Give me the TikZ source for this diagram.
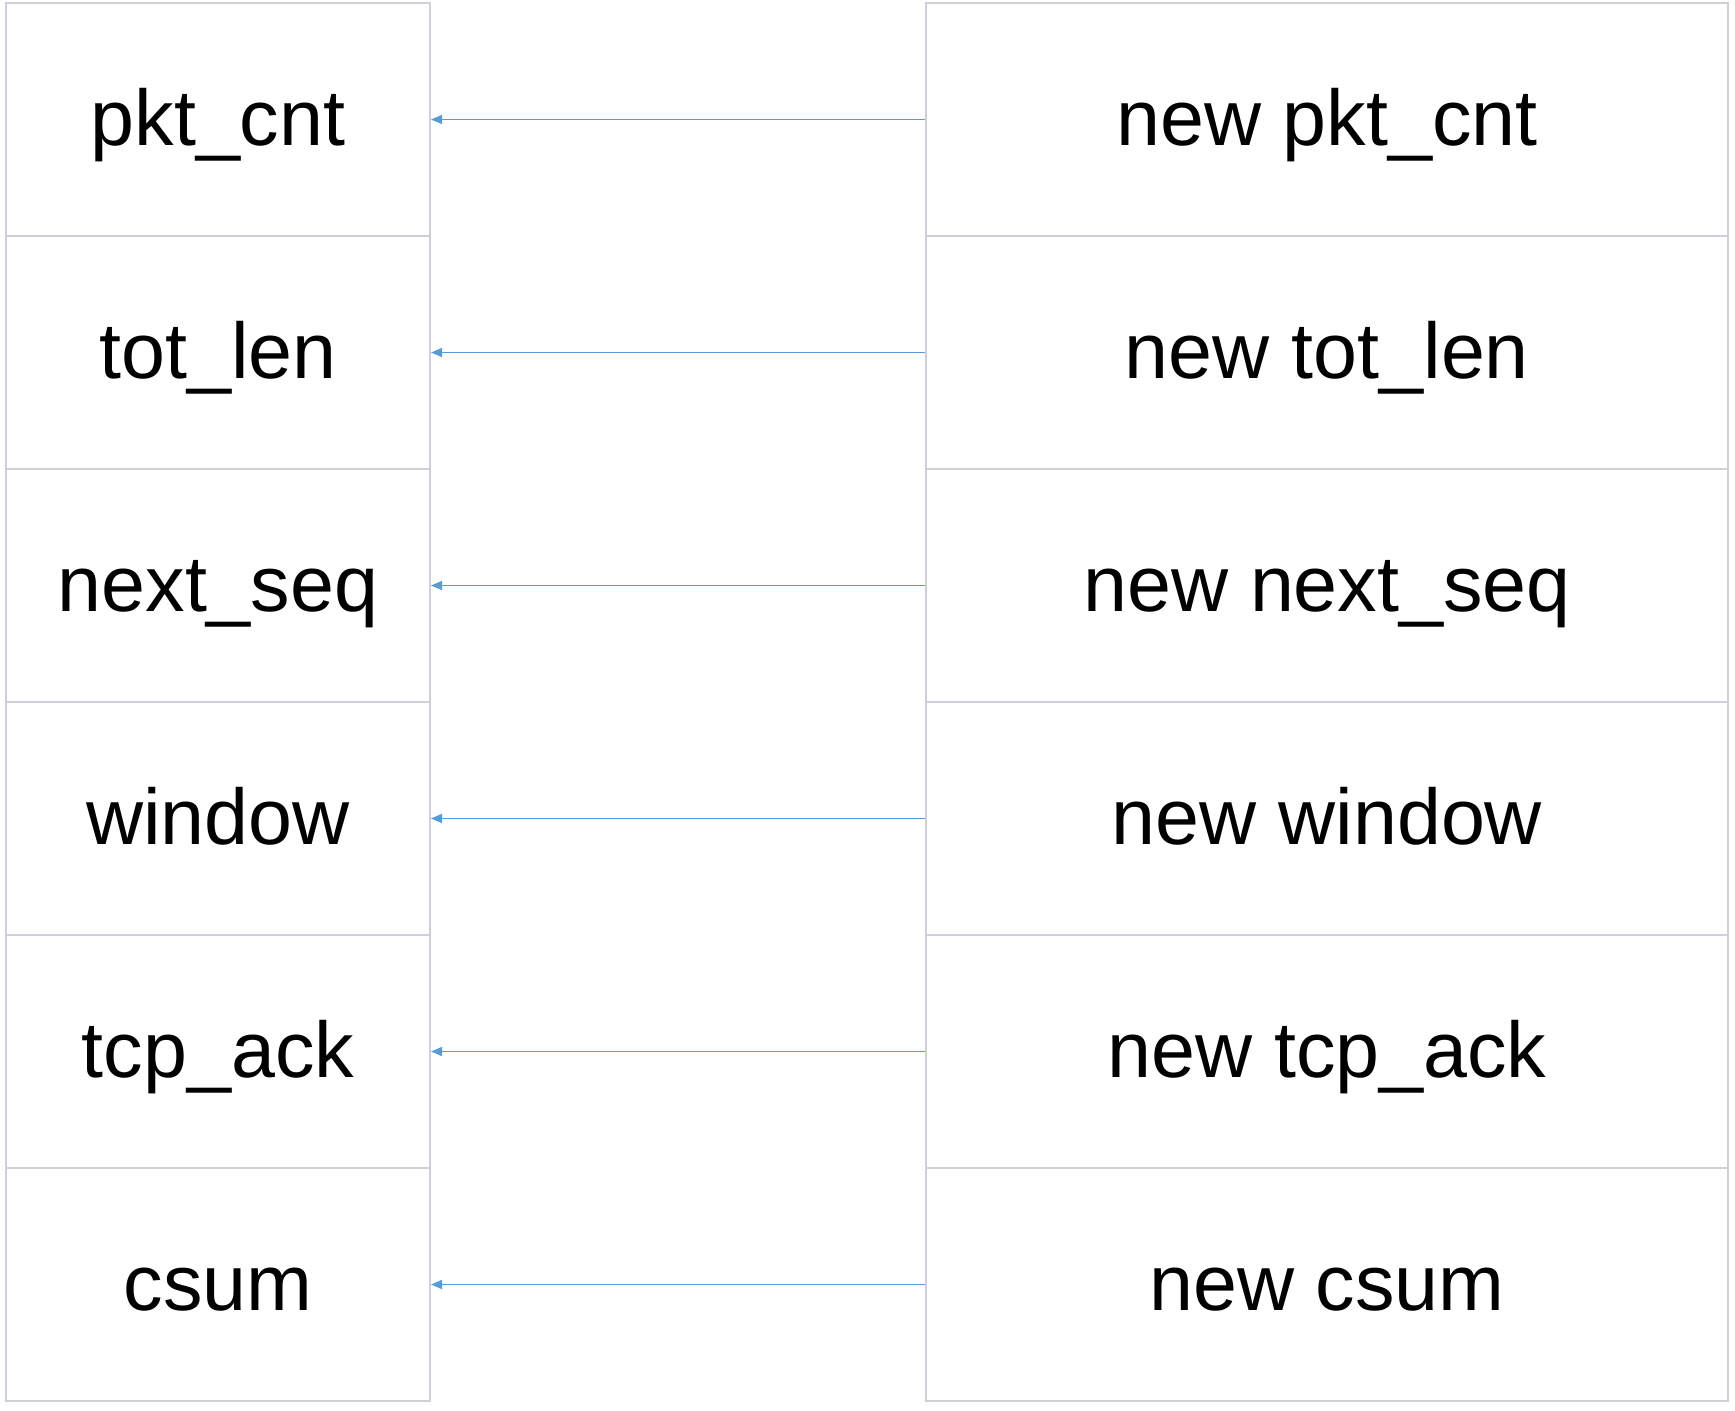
\documentclass[tikz,border=0pt]{standalone}
\usepackage{fontspec}
\setmainfont{Liberation Sans}
\usetikzlibrary{arrows.meta}
\definecolor{boxline}{HTML}{CDD1D7}
\definecolor{arrowblue}{HTML}{5B9BD5}
\tikzset{
  cell/.style={draw=boxline, line width=2pt, fill=white, rectangle, inner sep=0pt,
    minimum height=233pt, font=\fontsize{79}{90}\selectfont, text height=70pt, text depth=18pt},
  leftcell/.style={cell, minimum width=424pt},
  rightcell/.style={cell, minimum width=802pt},
  link/.style={draw=arrowblue, line width=1.5pt, -{Triangle[length=11pt,width=9pt]}}
}
\begin{document}
\begin{tikzpicture}[x=1pt,y=-1pt]
\useasboundingbox (0,0) rectangle (1735,1411);
\foreach \i/\a/\b in {1/pkt\_cnt/new pkt\_cnt,2/tot\_len/new tot\_len,3/next\_seq/new next\_seq,4/window/new window,5/tcp\_ack/new tcp\_ack,6/csum/new csum}{
  \node[leftcell] (l\i) at (218,{119.5+233*(\i-1)}) {\a};
  \node[rightcell] (r\i) at (1327,{119.5+233*(\i-1)}) {\b};
  \draw[link] (r\i.west) -- (l\i.east);
}
\end{tikzpicture}
\end{document}
